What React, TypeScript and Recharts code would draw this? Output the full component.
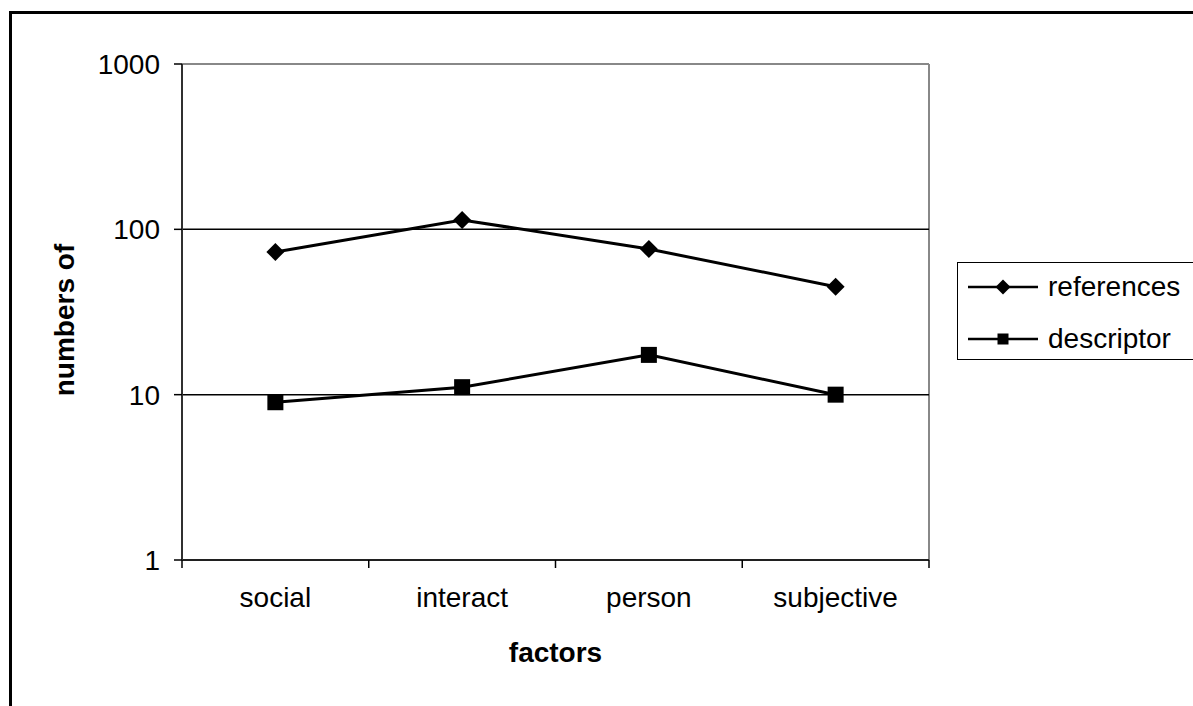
import React from 'react';
import * as Recharts from 'recharts';
import {
  LineChart,
  Line,
  XAxis,
  YAxis,
  ReferenceLine,
  Label,
} from 'recharts';

const categories = ['social', 'interact', 'person', 'subjective'];
const references = [73, 114, 76, 45];
const descriptor = [9, 11.1, 17.4, 10];
const yTicks = [1, 10, 100, 1000];
const gridValues = [10, 100];

const data = categories.map((factor, i) => ({
  factor,
  references: references[i],
  descriptor: descriptor[i],
}));

const W = 1193;
const H = 706;
const MARGIN = { top: 64, right: 264, bottom: 0, left: 0 };
const Y_AXIS_W = 182;
const X_AXIS_H = 146;
const PLOT_W = W - Y_AXIS_W - MARGIN.right;
const PLOT_H = H - MARGIN.top - X_AXIS_H;
const BAND = PLOT_W / categories.length;
const FONT = '"Liberation Sans", Arial, sans-serif';

const usePlotArea: () => any = (Recharts as any).usePlotArea || (() => null);

// gray frame round the plot area (top and right edges)
function PlotFrame() {
  const area = usePlotArea();
  const x = area ? area.x : Y_AXIS_W;
  const y = area ? area.y : MARGIN.top;
  const w = area ? area.width : PLOT_W;
  const h = area ? area.height : PLOT_H;
  return (
    <g>
      <line x1={x} x2={x + w} y1={y} y2={y} stroke="#888" strokeWidth={2} />
      <line x1={x + w} x2={x + w} y1={y} y2={y + h} stroke="#888" strokeWidth={2} />
    </g>
  );
}

const Diamond = (props: any) => {
  const { cx, cy, key } = props;
  if (cx == null || cy == null) return null;
  const r = 9;
  return (
    <polygon
      key={key}
      points={`${cx},${cy - r} ${cx + r},${cy} ${cx},${cy + r} ${cx - r},${cy}`}
      fill="#000"
    />
  );
};

const Square = (props: any) => {
  const { cx, cy, key } = props;
  if (cx == null || cy == null) return null;
  const r = 8;
  return <rect key={key} x={cx - r} y={cy - r} width={r * 2} height={r * 2} fill="#000" />;
};

// category label plus tick marks on the band edges
const XTick = (props: any) => {
  const { x, y, payload, index } = props;
  const last = index === categories.length - 1;
  return (
    <g>
      <line x1={x - BAND / 2} x2={x - BAND / 2} y1={y - 8} y2={y} stroke="#000" strokeWidth={1.5} />
      {last && (
        <line x1={x + BAND / 2} x2={x + BAND / 2} y1={y - 8} y2={y} stroke="#000" strokeWidth={1.5} />
      )}
      <text x={x} y={y + 39} textAnchor="middle" fill="#000" fontSize={28} fontFamily={FONT}>
        {payload.value}
      </text>
    </g>
  );
};

const series = [
  { key: 'references', marker: 'diamond' },
  { key: 'descriptor', marker: 'square' },
];

function LegendBox() {
  return (
    <div
      style={{
        position: 'absolute',
        left: 957,
        top: 262,
        width: 260,
        height: 96,
        border: '1px solid #000',
        background: '#fff',
        fontFamily: FONT,
        fontSize: 28,
      }}
    >
      {series.map((s, i) => (
        <div
          key={s.key}
          style={{
            position: 'absolute',
            left: 0,
            top: i === 0 ? 6 : 58,
            height: 36,
            display: 'flex',
            alignItems: 'center',
          }}
        >
          <svg width={90} height={36}>
            <line x1={10} x2={80} y1={18} y2={18} stroke="#000" strokeWidth={2.5} />
            {s.marker === 'diamond' ? (
              <polygon points="45,10.5 52.5,18 45,25.5 37.5,18" fill="#000" />
            ) : (
              <rect x={39.5} y={12.5} width={11} height={11} fill="#000" />
            )}
          </svg>
          <span style={{ lineHeight: '36px' }}>{s.key}</span>
        </div>
      ))}
    </div>
  );
}

export default function App() {
  return (
    <div
      style={{
        position: 'absolute',
        left: 0,
        top: 0,
        width: W,
        height: H,
        overflow: 'hidden',
        background: '#fff',
      }}
    >
      <div
        style={{
          position: 'absolute',
          left: 9,
          top: 11,
          width: 1400,
          height: 900,
          border: '3px solid #000',
        }}
      />
      <div style={{ position: 'absolute', left: 0, top: 0 }}>
        <LineChart width={W} height={H} data={data} margin={MARGIN}>
          <PlotFrame />
          <XAxis
            dataKey="factor"
            height={X_AXIS_H}
            padding={{ left: BAND / 2, right: BAND / 2 }}
            axisLine={{ stroke: '#202020', strokeWidth: 2 }}
            tickLine={false}
            tickSize={8}
            tickMargin={0}
            tick={<XTick />}
            interval={0}
          >
            <Label
              content={() => (
                <text
                  x={Y_AXIS_W + PLOT_W / 2}
                  y={662}
                  textAnchor="middle"
                  fontSize={28}
                  fontWeight="bold"
                  fontFamily={FONT}
                  fill="#000"
                >
                  factors
                </text>
              )}
            />
          </XAxis>
          <YAxis
            scale="log"
            domain={[1, 1000]}
            ticks={yTicks}
            allowDataOverflow
            width={Y_AXIS_W}
            tickSize={8}
            tickMargin={14}
            axisLine={{ stroke: '#303030', strokeWidth: 2 }}
            tickLine={{ stroke: '#000', strokeWidth: 1.5 }}
            tick={{ fill: '#000', fontSize: 28, fontFamily: FONT }}
          >
            <Label
              content={() => (
                <text
                  x={74}
                  y={320}
                  transform="rotate(-90 74 320)"
                  textAnchor="middle"
                  fontSize={28}
                  fontWeight="bold"
                  fontFamily={FONT}
                  fill="#000"
                >
                  numbers of
                </text>
              )}
            />
          </YAxis>
          {gridValues.map((v) => (
            <ReferenceLine key={v} y={v} stroke="#000" strokeWidth={1.5} />
          ))}
          <Line
            dataKey="references"
            stroke="#000"
            strokeWidth={3}
            dot={Diamond}
            activeDot={false}
            isAnimationActive={false}
          />
          <Line
            dataKey="descriptor"
            stroke="#000"
            strokeWidth={3}
            dot={Square}
            activeDot={false}
            isAnimationActive={false}
          />
        </LineChart>
      </div>
      <LegendBox />
    </div>
  );
}
